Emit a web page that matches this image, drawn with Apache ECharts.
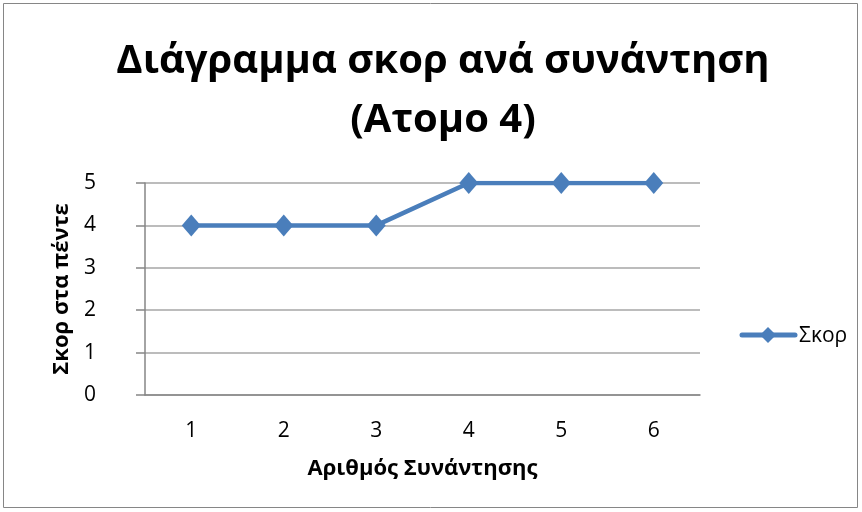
<!DOCTYPE html>
<html><head><meta charset="utf-8">
<script src="https://cdn.jsdelivr.net/npm/echarts@6/dist/echarts.min.js"></script>
<style>html,body{margin:0;padding:0;background:#fff}#c{width:862px;height:512px}</style>
</head><body><div id="c"></div>
<script>
const categories = ['1','2','3','4','5','6'];
const scores = [4,4,4,5,5,5];
const seriesName = 'Σκορ';
const titleText = 'Διάγραμμα σκορ ανά συνάντηση\n(Ατομο 4)';
const xName = 'Αριθμός Συνάντησης';
const yName = 'Σκορ στα πέντε';
const FONT = 'Open Sans';
const chart = echarts.init(document.getElementById('c'));
chart.setOption({
  backgroundColor:'#fff',
  animation:false,
  title:{text:titleText,left:443,textAlign:'center',top:32,padding:0,textStyle:{fontFamily:FONT,fontWeight:'bold',fontSize:40,lineHeight:59,color:'#000'}},
  grid:{left:145,right:162,top:183,bottom:117,containLabel:false},
  xAxis:{type:'category',data:categories,boundaryGap:true,
    axisLine:{lineStyle:{color:'#868686',width:1.5}},axisTick:{show:false},
    axisLabel:{fontFamily:FONT,fontSize:21,color:'#000',margin:26},
    name:xName,nameLocation:'middle',nameGap:63,nameTextStyle:{fontFamily:FONT,fontSize:22,fontWeight:'bold',color:'#000'}},
  yAxis:{type:'value',min:0,max:5,interval:1,
    axisLine:{show:true,lineStyle:{color:'#868686',width:1.5}},
    axisTick:{show:true,length:9,lineStyle:{color:'#868686',width:1.5}},
    splitLine:{lineStyle:{color:'#a6a6a6',width:1.5}},
    axisLabel:{fontFamily:FONT,fontSize:21,color:'#000',margin:49},
    name:yName,nameLocation:'middle',nameGap:68,nameRotate:90,nameTextStyle:{fontFamily:FONT,fontSize:22,fontWeight:'bold',color:'#000'}},
  series:[{name:seriesName,type:'line',data:scores,symbol:'diamond',symbolSize:[19,22],
    lineStyle:{color:'#4a7ebb',width:4.5},itemStyle:{color:'#4a7ebb'}}],
  graphic:[
    {type:'rect',shape:{x:3.5,y:3.5,width:854,height:504},style:{fill:'none',stroke:'#868686',lineWidth:1}},
    {type:'line',shape:{x1:742,y1:335,x2:795,y2:335},style:{stroke:'#4a7ebb',lineWidth:5,lineCap:'round'}},
    {type:'polygon',shape:{points:[[768,327],[776,335],[768,343],[760,335]]},style:{fill:'#4a7ebb'}},
    {type:'text',style:{text:seriesName,x:799,y:336,fill:'#000',font:'21px "Open Sans"',textVerticalAlign:'middle'}}
  ]
});
</script></body></html>
